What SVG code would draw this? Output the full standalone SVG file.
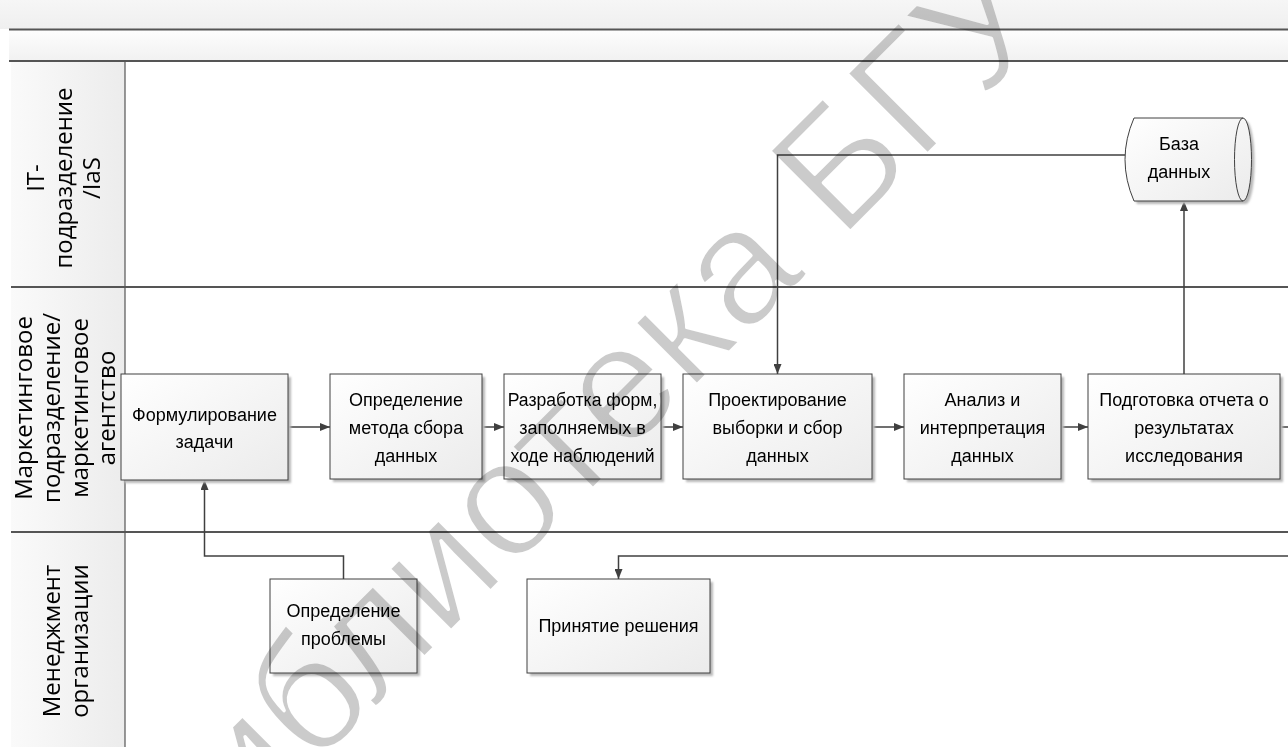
<svg xmlns="http://www.w3.org/2000/svg" width="1288" height="747" viewBox="0 0 1288 747">
<defs>
<linearGradient id="gTop" x1="0" y1="0" x2="0" y2="1"><stop offset="0" stop-color="#f6f6f6"/><stop offset="1" stop-color="#efefef"/></linearGradient>
<linearGradient id="gBand" x1="0" y1="0" x2="0" y2="1"><stop offset="0" stop-color="#fdfdfd"/><stop offset="1" stop-color="#f1f1f1"/></linearGradient>
<linearGradient id="gHead" x1="0" y1="0" x2="1" y2="0"><stop offset="0" stop-color="#fafafa"/><stop offset="1" stop-color="#ececec"/></linearGradient>
<linearGradient id="gBox" x1="0" y1="0" x2="1" y2="1"><stop offset="0" stop-color="#ffffff"/><stop offset="1" stop-color="#ebebeb"/></linearGradient>
<marker id="arr" viewBox="0 0 10 8" refX="10" refY="4" markerWidth="10" markerHeight="8" markerUnits="userSpaceOnUse" orient="auto">
<path d="M0,0 L10,4 L0,8 Z" fill="#404040"/>
</marker>
<filter id="sh" x="-10%" y="-10%" width="130%" height="130%"><feGaussianBlur stdDeviation="1.2"/></filter>
</defs>
<style>
.lane{font-family:"Open Sans","DejaVu Sans",sans-serif;font-size:24px;fill:#000}
.bt{font-family:"Liberation Sans",Arial,sans-serif;font-size:18px;fill:#000;text-anchor:middle}
.box{fill:url(#gBox);stroke:#404040;stroke-width:1}
.shadow{fill:#b8b8b8;filter:url(#sh)}
.sep{stroke:#555;stroke-width:2;fill:none}
.cn{stroke:#404040;stroke-width:1.5;fill:none}
.wm{font-family:"Liberation Sans",Arial,sans-serif;font-size:166px;fill:#cbcbcb;stroke:#fff;stroke-width:3.5;stroke-linejoin:round}
</style>

<g id="pool">
<rect x="0" y="0" width="1288" height="29" fill="url(#gTop)"/>
<rect x="9" y="30" width="1279" height="31" fill="url(#gBand)"/>
<rect x="0" y="62" width="1288" height="685" fill="#fff"/>
<rect x="11" y="62" width="114" height="685" fill="url(#gHead)"/>
<line class="sep" x1="9" y1="29.5" x2="1288" y2="29.5"/>
<line class="sep" x1="9" y1="61" x2="1288" y2="61"/>
<line class="sep" x1="11" y1="287" x2="1288" y2="287"/>
<line class="sep" x1="11" y1="532" x2="1288" y2="532"/>
<line x1="125" y1="62" x2="125" y2="747" stroke="#555" stroke-width="1.2"/>
</g>

<g id="lane-it">
<text class="lane" text-anchor="middle" transform="translate(44,178) rotate(-90)">IT-</text>
<text class="lane" text-anchor="middle" transform="translate(72,178) rotate(-90)">подразделение</text>
<text class="lane" text-anchor="middle" transform="translate(100,178) rotate(-90)">/IaS</text>
</g>
<g id="lane-marketing">
<text class="lane" text-anchor="middle" transform="translate(32,408) rotate(-90)">Маркетинговое</text>
<text class="lane" text-anchor="middle" transform="translate(60,408) rotate(-90)">подразделение/</text>
<text class="lane" text-anchor="middle" transform="translate(88,408) rotate(-90)">маркетинговое</text>
<text class="lane" text-anchor="middle" transform="translate(115,408) rotate(-90)">агентство</text>
</g>
<g id="lane-management">
<text class="lane" text-anchor="middle" transform="translate(60,641) rotate(-90)">Менеджмент</text>
<text class="lane" text-anchor="middle" transform="translate(88,641) rotate(-90)">организации</text>
</g>

<g id="connectors">
<line class="cn" x1="288" y1="427" x2="330" y2="427" marker-end="url(#arr)"/>
<line class="cn" x1="482" y1="427" x2="504" y2="427" marker-end="url(#arr)"/>
<line class="cn" x1="661" y1="427" x2="683" y2="427" marker-end="url(#arr)"/>
<line class="cn" x1="872" y1="427" x2="904" y2="427" marker-end="url(#arr)"/>
<line class="cn" x1="1061" y1="427" x2="1088" y2="427" marker-end="url(#arr)"/>
<path class="cn" d="M1184,374 V201" marker-end="url(#arr)"/>
<path class="cn" d="M1125,155 H777.5 V374" marker-end="url(#arr)"/>
<path class="cn" d="M343.5,579 V556 H204.5 V480" marker-end="url(#arr)"/>
<path class="cn" d="M1280,427 H1300 V556 H618.5 V579" marker-end="url(#arr)"/>
</g>

<g id="n-formulate">
<rect class="shadow" x="124" y="377" width="167" height="106"/>
<rect class="box" x="121" y="374" width="167" height="106"/>
<text class="bt" x="204.5" y="421">Формулирование</text>
<text class="bt" x="204.5" y="448">задачи</text>
</g>
<g id="n-method">
<rect class="shadow" x="333" y="377" width="152" height="105"/>
<rect class="box" x="330" y="374" width="152" height="105"/>
<text class="bt" x="406" y="406">Определение</text>
<text class="bt" x="406" y="434">метода сбора</text>
<text class="bt" x="406" y="462">данных</text>
</g>
<g id="n-forms">
<rect class="shadow" x="507" y="377" width="157" height="105"/>
<rect class="box" x="504" y="374" width="157" height="105"/>
<text class="bt" x="582.5" y="406" style="font-size:17.6px">Разработка форм,</text>
<text class="bt" x="582.5" y="434">заполняемых в</text>
<text class="bt" x="582.5" y="462" style="font-size:17.6px">ходе наблюдений</text>
</g>
<g id="n-sampling">
<rect class="shadow" x="686" y="377" width="189" height="105"/>
<rect class="box" x="683" y="374" width="189" height="105"/>
<text class="bt" x="777.5" y="406">Проектирование</text>
<text class="bt" x="777.5" y="434">выборки и сбор</text>
<text class="bt" x="777.5" y="462">данных</text>
</g>
<g id="n-analysis">
<rect class="shadow" x="907" y="377" width="157" height="105"/>
<rect class="box" x="904" y="374" width="157" height="105"/>
<text class="bt" x="982.5" y="406">Анализ и</text>
<text class="bt" x="982.5" y="434">интерпретация</text>
<text class="bt" x="982.5" y="462">данных</text>
</g>
<g id="n-report">
<rect class="shadow" x="1091" y="377" width="192" height="105"/>
<rect class="box" x="1088" y="374" width="192" height="105"/>
<text class="bt" x="1184" y="406">Подготовка отчета о</text>
<text class="bt" x="1184" y="434">результатах</text>
<text class="bt" x="1184" y="462">исследования</text>
</g>
<g id="n-database">
<path class="shadow" d="M1137,121 H1246 A8.5,41.5 0 0 1 1246,204 H1137 Q1119,162.5 1137,121 Z"/>
<path class="box" d="M1134,118 H1243 A8.5,41.5 0 0 1 1243,201 H1134 Q1116,159.5 1134,118 Z"/>
<path d="M1243,118 A8.5,41.5 0 0 0 1243,201" fill="none" stroke="#404040" stroke-width="1"/>
<text class="bt" x="1179" y="150">База</text>
<text class="bt" x="1179" y="178">данных</text>
</g>
<g id="n-problem">
<rect class="shadow" x="273" y="582" width="147" height="94"/>
<rect class="box" x="270" y="579" width="147" height="94"/>
<text class="bt" x="343.5" y="617">Определение</text>
<text class="bt" x="343.5" y="645">проблемы</text>
</g>
<g id="n-decision">
<rect class="shadow" x="530" y="582" width="183" height="94"/>
<rect class="box" x="527" y="579" width="183" height="94"/>
<text class="bt" x="618.5" y="632">Принятие решения</text>
</g>

<g id="watermark" style="mix-blend-mode:multiply">
<text class="wm" transform="translate(170,912) rotate(-45)" style="paint-order:fill stroke">Библиотека БГУ</text>
</g>
</svg>
